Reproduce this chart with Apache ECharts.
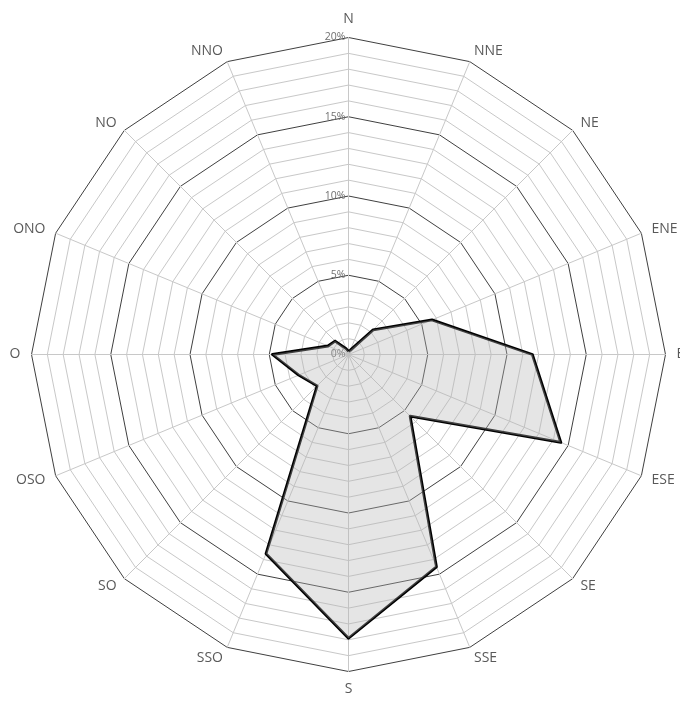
<!DOCTYPE html>
<html>
<head>
<meta charset="utf-8">
<script src="https://cdn.jsdelivr.net/npm/echarts@6/dist/echarts.min.js"></script>
<style>html,body{margin:0;padding:0;background:#fff}#c{width:680px;height:704px}</style>
</head>
<body>
<div id="c"></div>
<script>
var directions = ['N','NNE','NE','ENE','E','ESE','SE','SSE','S','SSO','SO','OSO','O','ONO','NO','NNO'];
var frequencies = [0.2, 0.3, 2.2, 5.7, 11.6, 14.5, 5.5, 14.5, 17.9, 13.6, 2.8, 3.4, 4.8, 1.4, 1.2, 0.4];
var axisMax = 20;
var tickLabels = ['0%','5%','10%','15%','20%'];

// ECharts radar runs counter-clockwise; reorder so directions run clockwise from N
function clockwiseOrder(arr) { return [arr[0]].concat(arr.slice(1).reverse()); }
var cwDirections = clockwiseOrder(directions);
var cwFrequencies = clockwiseOrder(frequencies);

var chart = echarts.init(document.getElementById('c'), null, {renderer:'canvas'});
var center = ['348.5px','354.5px'];
var radius = 317;
var option = {
  backgroundColor: '#ffffff',
  animation: false,
  radar: [
    {
      center: center,
      radius: radius,
      startAngle: 90,
      shape: 'polygon',
      splitNumber: 20,
      indicator: cwDirections.map(function(d){ return {name: d, max: axisMax, min: 0}; }),
      axisName: { color: '#595959', fontSize: 14, fontFamily: 'Open Sans, Liberation Sans, sans-serif' },
      nameGap: 11,
      axisLine: { show: true, lineStyle: { color: '#c8c8c8', width: 1 } },
      axisTick: { show: false },
      axisLabel: { show: false },
      splitLine: { show: true, lineStyle: { color: ['#404040','#c8c8c8','#c8c8c8','#c8c8c8','#c8c8c8'], width: 1 } },
      splitArea: { show: false }
    },
    {
      center: center,
      radius: radius,
      startAngle: 90,
      shape: 'polygon',
      splitNumber: tickLabels.length - 1,
      indicator: [{name: '', max: axisMax, min: 0}],
      axisName: { show: false },
      axisLine: { show: false },
      axisTick: { show: false },
      splitLine: { show: false },
      splitArea: { show: false },
      axisLabel: {
        show: true, color: '#707070', fontSize: 10.5, margin: 3,
        fontFamily: 'Open Sans, Liberation Sans, sans-serif',
        formatter: function(v){ return tickLabels[Math.round(v / 5)]; }
      }
    }
  ],
  series: [{
    type: 'radar',
    radarIndex: 0,
    symbol: 'none',
    lineStyle: { color: '#000000', width: 2.8 },
    areaStyle: { color: 'rgba(180,180,180,0.5)' },
    data: [{ value: cwFrequencies }]
  }]
};
chart.setOption(option);
</script>
</body>
</html>
